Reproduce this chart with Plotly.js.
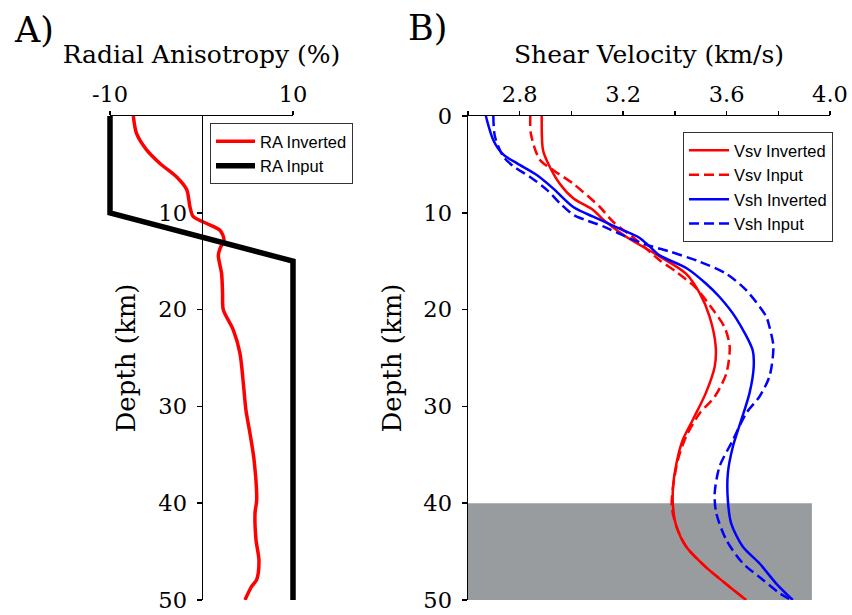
<!DOCTYPE html>
<html>
<head>
<meta charset="utf-8">
<script src="https://cdn.plot.ly/plotly-3.0.1.min.js"></script>
<style>html,body{margin:0;padding:0;background:#fff;}#chart{width:852px;height:615px;}</style>
</head>
<body>
<div id="chart"></div>
<script>
// ---- Panel A: radial anisotropy (%) vs depth (km)
const raInputDepth = [0, 10, 15, 50];
const raInput = [-10, -10, 10, 10];
const raInvDepth = [0, 1.8, 3.5, 4.9, 6.3, 7.6, 9.4, 10.4, 11.1, 11.8, 12.8, 13.7, 14.4, 16.3, 18.3, 20.0, 22.1, 24.5, 27.6, 30.4, 32.8, 35.5, 39.7, 41.0, 43.8, 45.9, 47.9, 48.6, 50];
const raInv = [-7.45, -7.1, -6.0, -4.54, -2.71, -1.62, -1.26, -0.9, 0.57, 2.02, 2.46, 2.02, 1.84, 2.2, 2.3, 2.38, 3.47, 4.2, 4.57, 4.86, 5.3, 5.74, 6.03, 5.85, 5.96, 6.28, 6.03, 5.48, 4.75];

// ---- Panel B: shear velocity (km/s) vs depth (km)
const vsvInvDepth = [0, 3.5, 4.9, 7.0, 8.5, 9.7, 10.7, 12.5, 14.5, 16.3, 18.3, 20.7, 23.8, 25.9, 28.6, 31.4, 33.5, 35.9, 38.3, 40.4, 42.4, 44.5, 46.6, 48.6, 50];
const vsvInv = [2.885, 2.89, 2.91, 2.955, 3.007, 3.084, 3.123, 3.213, 3.341, 3.444, 3.496, 3.534, 3.558, 3.554, 3.52, 3.469, 3.43, 3.406, 3.393, 3.393, 3.406, 3.444, 3.52, 3.61, 3.676];
const vsvInpDepth = [0, 1.8, 4.5, 5.6, 7.0, 9.4, 10.9, 12.8, 14.9, 16.1, 17.8, 20.0, 21.8, 23.8, 26.6, 29.0, 30.7, 33.1, 35.5, 38.3, 40.4, 42.4, 44.5, 46.6, 48.6, 50];
const vsvInp = [2.841, 2.843, 2.877, 2.93, 3.007, 3.11, 3.16, 3.251, 3.341, 3.406, 3.483, 3.547, 3.592, 3.612, 3.599, 3.554, 3.496, 3.444, 3.412, 3.393, 3.388, 3.406, 3.444, 3.52, 3.61, 3.676];
const vshInvDepth = [0, 2.5, 4.0, 4.9, 6.1, 7.5, 9.4, 10.4, 11.95, 12.6, 13.5, 14.4, 15.7, 17.3, 18.7, 20.9, 24.2, 25.9, 28.6, 31.4, 34.2, 36.9, 39.7, 42.1, 44.5, 46.2, 48.3, 50];
const vshInv = [2.669, 2.698, 2.737, 2.79, 2.866, 2.93, 3.007, 3.084, 3.213, 3.264, 3.303, 3.341, 3.444, 3.52, 3.573, 3.637, 3.701, 3.705, 3.689, 3.657, 3.624, 3.605, 3.605, 3.618, 3.663, 3.727, 3.792, 3.856];
const vshInpDepth = [0, 2.1, 4.2, 5.2, 6.3, 7.6, 9.0, 10.2, 10.7, 11.4, 12.5, 13.3, 14.0, 15.05, 16.3, 18.0, 20.7, 21.8, 23.8, 26.9, 29.0, 30.7, 33.5, 36.2, 39.0, 41.0, 43.8, 46.2, 47.9, 49.3, 50];
const vshInp = [2.698, 2.704, 2.737, 2.776, 2.84, 2.904, 2.955, 3.007, 3.05, 3.123, 3.213, 3.29, 3.38, 3.496, 3.599, 3.676, 3.753, 3.766, 3.781, 3.766, 3.727, 3.676, 3.624, 3.573, 3.554, 3.56, 3.599, 3.663, 3.74, 3.805, 3.85];

// ---- ticks
const raTickVals = [-10, 10];
const raTickText = ['-10', '10'];
const depthTicksA = [10, 20, 30, 40, 50];
const depthTicksB = [0, 10, 20, 30, 40, 50];
const velTickVals = [2.6, 2.8, 3.0, 3.2, 3.4, 3.6, 3.8, 4.0];
const velTickText = ['', '2.8', '', '3.2', '', '3.6', '', '4.0'];
const shadeDepth = [40, 50];
const shadeVel = [2.6, 3.93];

const W = 852, H = 615;
const serif = 'DejaVu Serif, serif';
const sans = 'Liberation Sans, Arial, sans-serif';
const yDom = [1 - 600 / H, 1 - 116 / H];
// padded (unclipped) overlay for the thick input line of panel A
const padPx = 5;
const pxPerRA = 183 / 20, pxPerKm = 484 / 50;
const padRA = padPx / pxPerRA, padKm = padPx / pxPerKm;

const traces = [
  {x: raInv, y: raInvDepth, xaxis: 'x', yaxis: 'y', mode: 'lines', name: 'RA Inverted',
   line: {color: '#ff0000', width: 3.5, shape: 'spline', smoothing: 0.8}, legend: 'legend'},
  {x: raInput, y: raInputDepth, xaxis: 'x3', yaxis: 'y3', mode: 'lines', name: 'RA Input',
   line: {color: '#000000', width: 5.5}, legend: 'legend'},
  {x: vsvInv, y: vsvInvDepth, xaxis: 'x2', yaxis: 'y2', mode: 'lines', name: 'Vsv Inverted',
   line: {color: '#ff0000', width: 2.5, shape: 'spline', smoothing: 0.8}, legend: 'legend2'},
  {x: vsvInp, y: vsvInpDepth, xaxis: 'x2', yaxis: 'y2', mode: 'lines', name: 'Vsv Input',
   line: {color: '#ff0000', width: 2.5, dash: '10px,5px', shape: 'spline', smoothing: 0.8}, legend: 'legend2'},
  {x: vshInv, y: vshInvDepth, xaxis: 'x2', yaxis: 'y2', mode: 'lines', name: 'Vsh Inverted',
   line: {color: '#0000ff', width: 2.5, shape: 'spline', smoothing: 0.8}, legend: 'legend2'},
  {x: vshInp, y: vshInpDepth, xaxis: 'x2', yaxis: 'y2', mode: 'lines', name: 'Vsh Input',
   line: {color: '#0000ff', width: 2.5, dash: '10px,5px', shape: 'spline', smoothing: 0.8}, legend: 'legend2'}
];

const axisCommon = {
  showline: true, linecolor: '#000', linewidth: 1.5, ticks: 'outside', tickcolor: '#000',
  tickwidth: 1.5, ticklen: 5, showgrid: false, zeroline: false,
  tickfont: {family: serif, size: 22.5, color: '#000'}
};

const layout = {
  width: W, height: H,
  margin: {l: 0, r: 0, t: 0, b: 0},
  paper_bgcolor: '#fff', plot_bgcolor: 'rgba(0,0,0,0)',
  showlegend: true,
  xaxis: Object.assign({}, axisCommon, {
    domain: [110 / W, 293 / W], range: [-10, 10], side: 'top', anchor: 'y',
    tickvals: raTickVals, ticktext: raTickText, ticklen: 4,
    title: {text: 'Radial Anisotropy (%)', font: {family: serif, size: 25, color: '#000'}, standoff: 10}
  }),
  yaxis: Object.assign({}, axisCommon, {
    domain: yDom, range: [50, 0], anchor: 'free', position: 201.5 / W, side: 'left',
    tickvals: depthTicksA, ticklabelstandoff: 5,
    title: {text: 'Depth (km)', font: {family: serif, size: 26, color: '#000'}, standoff: 14}
  }),
  xaxis3: {
    domain: [(110 - padPx) / W, (293 + padPx) / W], range: [-10 - padRA, 10 + padRA],
    anchor: 'y3', visible: false, showgrid: false, zeroline: false
  },
  yaxis3: {
    domain: [1 - (600 + padPx) / H, 1 - (116 - padPx) / H], range: [50 + padKm, -padKm],
    anchor: 'x3', visible: false, showgrid: false, zeroline: false
  },
  xaxis2: Object.assign({}, axisCommon, {
    domain: [468 / W, 830 / W], range: [2.6, 4.0], side: 'top', anchor: 'y2',
    tickvals: velTickVals, ticktext: velTickText, ticklen: 4,
    title: {text: 'Shear Velocity (km/s)', font: {family: serif, size: 25, color: '#000'}, standoff: 10}
  }),
  yaxis2: Object.assign({}, axisCommon, {
    domain: yDom, range: [50, 0], anchor: 'x2', side: 'left',
    tickvals: depthTicksB, ticklabelstandoff: 5,
    title: {text: 'Depth (km)', font: {family: serif, size: 26, color: '#000'}, standoff: 14}
  }),
  legend: {
    x: 210 / W, y: 1 - 123 / H, xanchor: 'left', yanchor: 'top',
    bgcolor: '#fff', bordercolor: '#333', borderwidth: 1, itemwidth: 39,
    font: {family: sans, size: 16.5, color: '#000'}
  },
  legend2: {
    x: 683 / W, y: 1 - 132 / H, xanchor: 'left', yanchor: 'top',
    bgcolor: '#fff', bordercolor: '#333', borderwidth: 1, itemwidth: 40,
    font: {family: sans, size: 16.5, color: '#000'}
  },
  shapes: [{
    type: 'rect', xref: 'x2', yref: 'y2', layer: 'below',
    x0: shadeVel[0], x1: shadeVel[1], y0: shadeDepth[0], y1: shadeDepth[1],
    fillcolor: '#989c9e', line: {width: 0}
  }],
  annotations: [
    {text: 'A)', xref: 'paper', yref: 'paper', x: 12 / W, y: 1 - 8 / H, xanchor: 'left', yanchor: 'top',
     showarrow: false, font: {family: serif, size: 35, color: '#000'}},
    {text: 'B)', xref: 'paper', yref: 'paper', x: 406 / W, y: 1 - 6 / H, xanchor: 'left', yanchor: 'top',
     showarrow: false, font: {family: serif, size: 35, color: '#000'}}
  ]
};

Plotly.newPlot('chart', traces, layout, {displayModeBar: false, staticPlot: true});
</script>
</body>
</html>
